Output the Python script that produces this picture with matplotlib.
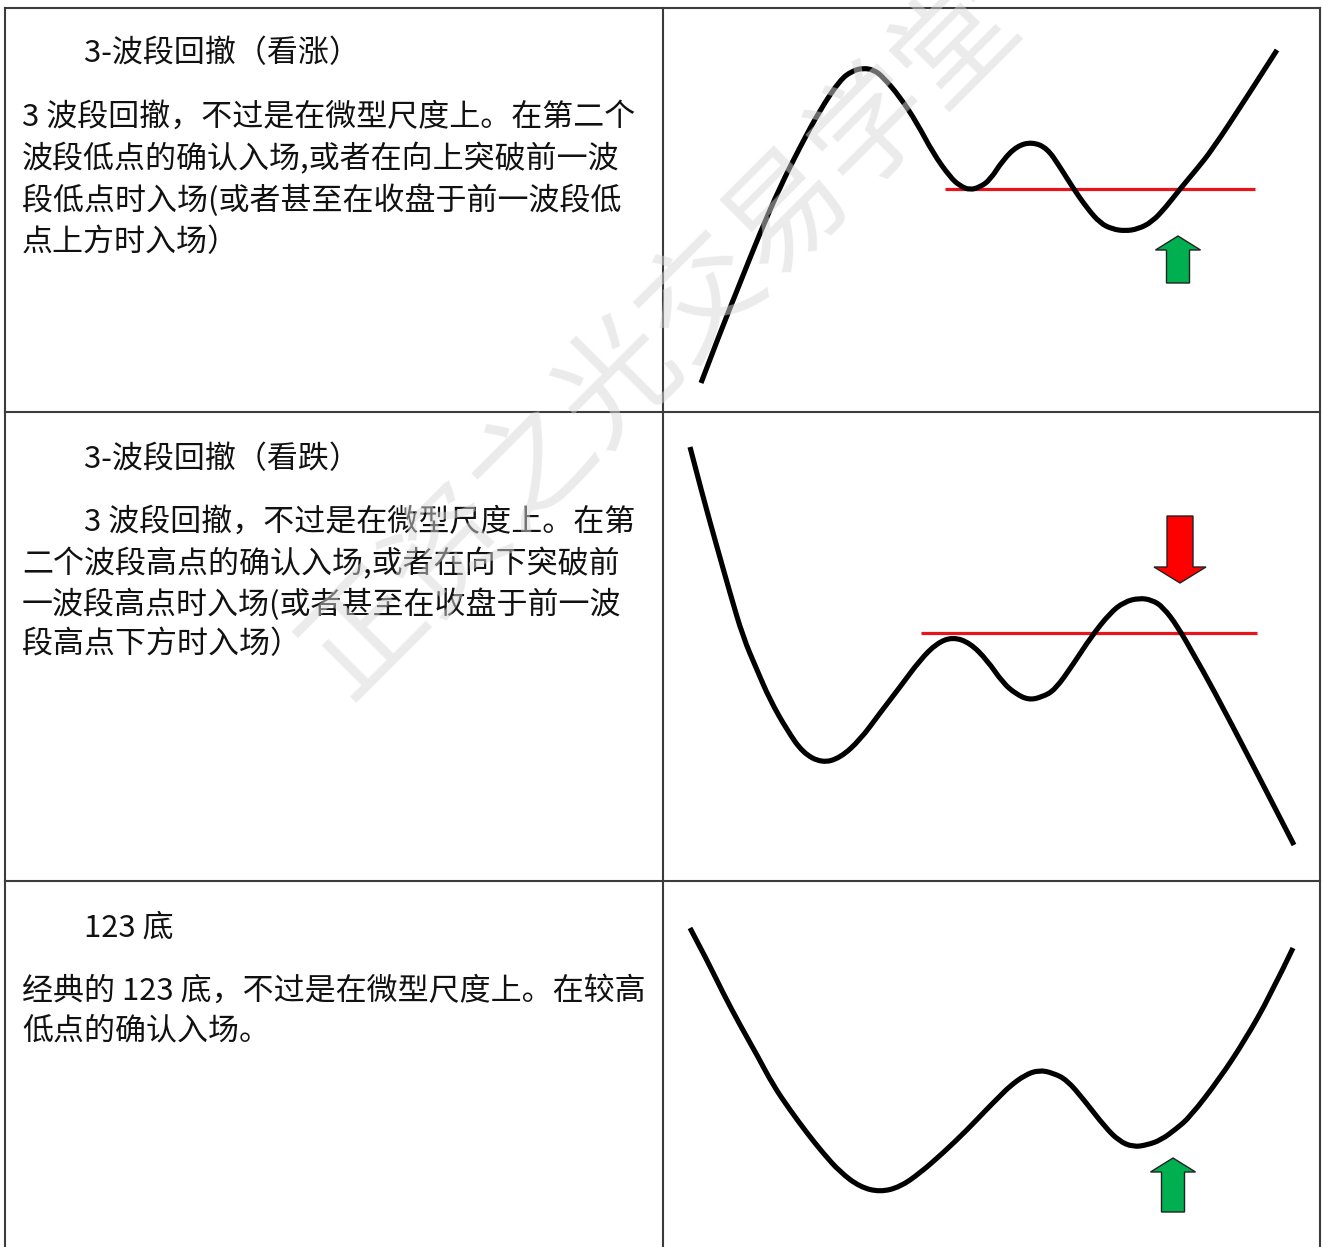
import matplotlib
matplotlib.use("Agg")
import matplotlib.pyplot as plt
from matplotlib.path import Path
from matplotlib.patches import PathPatch

plt.rcParams['font.family'] = ['Noto Sans CJK SC', 'DejaVu Sans']

W, H = 1323, 1247

# ---------------- text of the table (left column) ----------------
titles = ["\u3000\u30003-波段回撤（看涨）",
          "\u3000\u30003-波段回撤（看跌）",
          "\u3000\u3000123 底"]
bodies = [
    ["3 波段回撤，不过是在微型尺度上。在第二个",
     "波段低点的确认入场,或者在向上突破前一波",
     "段低点时入场(或者甚至在收盘于前一波段低",
     "点上方时入场）"],
    ["\u3000\u30003 波段回撤，不过是在微型尺度上。在第",
     "二个波段高点的确认入场,或者在向下突破前",
     "一波段高点时入场(或者甚至在收盘于前一波",
     "段高点下方时入场）"],
    ["经典的 123 底，不过是在微型尺度上。在较高",
     "低点的确认入场。"],
]
title_y = [50, 456, 924]
body_y = [[113, 155, 197, 239], [518, 560, 601, 641], [987, 1027]]

watermark = "正资之光交易学堂"

# ---------------- price paths (cell units, y up) ----------------
# panel 1: 3-leg pullback, bullish
p1_x = [38, 57, 77, 97, 117, 137, 157, 177, 189, 200, 211, 220, 237, 254, 270,
        287, 297, 307, 317, 327, 340, 354, 369, 384, 397, 410, 424, 437, 449,
        462, 475, 489, 503, 517, 533, 549, 582, 614]
p1_y = [29, 79, 129, 179, 225, 265, 302, 332, 341, 344, 342, 335, 315, 289, 259,
        235, 226, 222, 225, 232, 252, 266, 270, 264, 245, 224, 204, 189, 183,
        181, 183, 190, 205, 223, 242, 262, 312, 362]
p1_level = 223
p1_level_x = [282, 592]

# panel 2: 3-leg pullback, bearish
p2_x = [27, 40, 54, 67, 80, 94, 107, 124, 140, 159, 177, 197, 217, 237, 257,
        274, 290, 307, 324, 340, 353, 366, 379, 392, 411, 428, 447, 461, 476,
        489, 500, 515, 532, 549, 591, 631]
p2_y = [434, 384, 334, 288, 244, 211, 181, 151, 128, 118, 123, 141, 168, 194, 221,
        238, 244, 238, 221, 198, 187, 181, 184, 191, 218, 244, 268, 279, 283,
        281, 274, 254, 224, 194, 114, 36]
p2_level = 248
p2_level_x = [258, 594]

# panel 3: 123 bottom
p3_x = [27, 44, 60, 77, 94, 110, 127, 144, 160, 177, 197, 217, 237, 257, 280,
        304, 324, 336, 347, 362, 376, 390, 404, 421, 442, 456, 470, 484, 498,
        513, 527, 557, 582, 607, 630]
p3_y = [319, 287, 254, 222, 192, 162, 137, 114, 94, 75, 60, 55, 60, 74, 94,
        117, 138, 150, 161, 172, 177, 174, 167, 147, 120, 106, 100, 102, 107,
        118, 130, 169, 207, 251, 299]

# entry arrows: (x, tail y, head y, colour)
arrows = [(515, 129, 176, '#00b050'),
          (517, 365, 298, '#ff0000'),
          (510, 35, 89, '#00b050')]


def smooth_path(xs, ys):
    # quadratic b-spline through the read points (points act as control points)
    pts = list(zip(xs, ys))
    verts = [pts[0]]
    codes = [Path.MOVETO]
    for i in range(1, len(pts) - 1):
        mid = ((pts[i][0] + pts[i + 1][0]) / 2, (pts[i][1] + pts[i + 1][1]) / 2)
        if i == len(pts) - 2:
            mid = pts[-1]
        verts += [pts[i], mid]
        codes += [Path.CURVE3, Path.CURVE3]
    return Path(verts, codes)


# ---------------- layout ----------------
col_x = 663
right_x = 1320
row_edges = [8, 412, 881, H]

fig = plt.figure(figsize=(W / 100, H / 100), dpi=100)
ax = fig.add_axes([0, 0, 1, 1])
ax.set_xlim(0, W)
ax.set_ylim(H, 0)
ax.axis('off')

grid_kw = dict(color='#3c3c3c', lw=1.5)
for y in row_edges[:3]:
    ax.plot([5, right_x], [y, y], **grid_kw)
for x in [5, col_x, right_x]:
    ax.plot([x, x], [8, H], **grid_kw)

fs = 22.3
dy = 4
for t, ty, lines, ly in zip(titles, title_y, bodies, body_y):
    ax.text(22, ty + dy, t, fontsize=fs, va='center', ha='left', color='#111111')
    for s, yy in zip(lines, ly):
        ax.text(22, yy + dy, s, fontsize=fs, va='center', ha='left', color='#111111')

paths = [(p1_x, p1_y, p1_level, p1_level_x),
         (p2_x, p2_y, p2_level, p2_level_x),
         (p3_x, p3_y, None, None)]

cw = right_x - col_x
for i, (px, py, lvl, lvx) in enumerate(paths):
    top, bot = row_edges[i], row_edges[i + 1]
    h = bot - top
    pa = fig.add_axes([col_x / W, (H - bot) / H, cw / W, h / H])
    pa.set_xlim(0, cw)
    pa.set_ylim(0, h)
    pa.axis('off')
    pa.patch.set_alpha(0)
    if lvl is not None:
        pa.plot(lvx, [lvl, lvl], color='#e8141c', lw=2.3, solid_capstyle='butt', zorder=2)
    pa.add_patch(PathPatch(smooth_path(px, py), fill=False, ec='black', lw=3.7,
                           capstyle='butt', joinstyle='round', zorder=3))
    ax_x, y0, y1, c = arrows[i]
    big = c == '#ff0000'
    pa.arrow(ax_x, y0, 0, y1 - y0, width=26 if big else 23,
             head_width=52 if big else 45, head_length=16 if big else 14,
             length_includes_head=True, fc=c, ec='#222222', lw=1.0, zorder=4)

fig.text(662 / W, 1 - 338 / H, watermark, fontsize=86, rotation=45,
         ha='center', va='center', color='#d8d8d8', alpha=0.5, zorder=10)

fig.savefig('out.png', dpi=100, facecolor='white')
